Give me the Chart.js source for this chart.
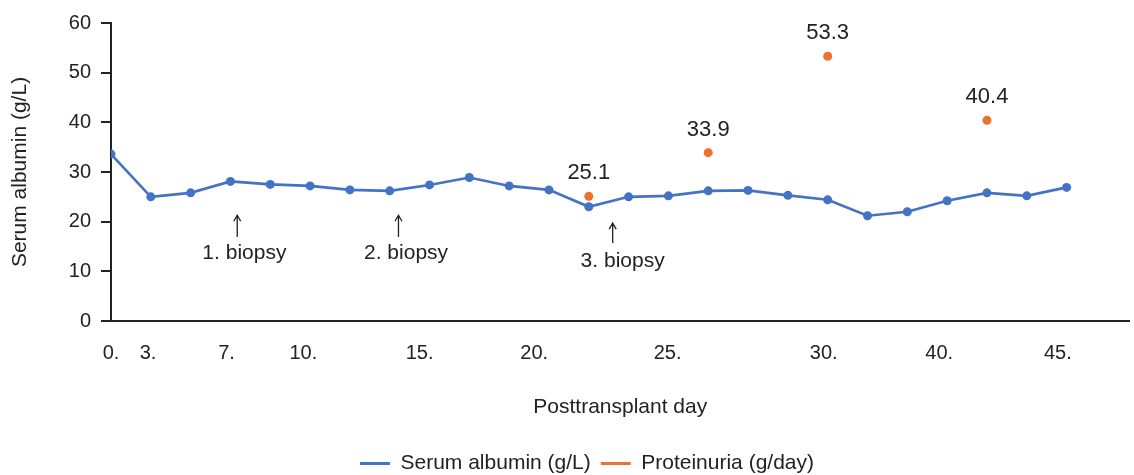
<!DOCTYPE html>
<html>
<head>
<meta charset="utf-8">
<script src="https://cdn.jsdelivr.net/npm/chart.js@4.4.1/dist/chart.umd.min.js"></script>
<style>
  html, body { margin: 0; padding: 0; background: #fff; }
</style>
</head>
<body>
<canvas id="grafico" width="1134" height="475"></canvas>
<script>
// serum albumin per sample (g/L)
const albumin = [33.6, 25.0, 25.8, 28.1, 27.5, 27.2, 26.4, 26.2, 27.4, 28.9, 27.2, 26.4,
  23.0, 25.0, 25.2, 26.2, 26.3, 25.3, 24.4, 21.2, 22.0, 24.2, 25.8, 25.2, 26.9];
// proteinuria (g/day), only measured on some samples
const proteinuria = [null, null, null, null, null, null, null, null, null, null, null, null,
  25.1, null, null, 33.9, null, null, 53.3, null, null, null, 40.4, null, null];

// x axis labels (posttransplant day) and where they sit on the sample axis
const tickLabels = ['0.', '3.', '7.', '10.', '15.', '20.', '25.', '30.', '40.', '45.'];
const tickAt = [0, 0.93, 2.9, 4.83, 7.75, 10.63, 13.98, 17.9, 20.8, 23.78];

// biopsy markers
const biopsyText = ['1. biopsy', '2. biopsy', '3. biopsy'];
const biopsyAt = [3.17, 7.22, 12.6];
const biopsyTextAt = [3.35, 7.41, 12.85];
const arrowTop = [21.3, 21.3, 19.7];
const arrowBottom = [16.9, 16.9, 15.7];
const textBase = [12.5, 12.5, 10.9];

const azul = '#4472C4';
const laranja = '#EE7130';
const tinta = '#222222';
const fonte = '"Liberation Sans", Arial, sans-serif';

Chart.defaults.font.family = fonte;
Chart.defaults.color = tinta;

const rotulos = {
  id: 'rotulos',
  afterLayout(chart) {
    // nudge legend to where it sits in the figure
    const lg = chart.legend;
    lg.top += 9; lg.bottom += 9;
    lg.left += 20; lg.right += 20;
  },
  afterDatasetsDraw(chart) {
    const { ctx } = chart;
    const x = chart.scales.x;
    const y = chart.scales.y;
    ctx.save();
    // value labels above proteinuria points
    const meta = chart.getDatasetMeta(1);
    ctx.font = '22px ' + fonte;
    ctx.fillStyle = tinta;
    ctx.textAlign = 'center';
    ctx.textBaseline = 'alphabetic';
    meta.data.forEach((pt, i) => {
      const v = chart.data.datasets[1].data[i].y;
      ctx.fillText(v.toFixed(1), pt.x, pt.y - 17);
    });
    // biopsy arrows
    ctx.strokeStyle = tinta;
    ctx.lineWidth = 1.3;
    ctx.font = '21px ' + fonte;
    biopsyText.forEach((t, i) => {
      const ax = x.getPixelForValue(biopsyAt[i]);
      const top = y.getPixelForValue(arrowTop[i]);
      const bot = y.getPixelForValue(arrowBottom[i]);
      ctx.beginPath();
      ctx.moveTo(ax, bot);
      ctx.lineTo(ax, top);
      ctx.moveTo(ax - 3.5, top + 6);
      ctx.lineTo(ax, top);
      ctx.lineTo(ax + 3.5, top + 6);
      ctx.stroke();
      ctx.fillText(t, x.getPixelForValue(biopsyTextAt[i]), y.getPixelForValue(textBase[i]));
    });
    ctx.restore();
  }
};

const ctx = document.getElementById('grafico').getContext('2d');
const grafico = new Chart(ctx, {
  type: 'line',
  data: {
    datasets: [
      {
        label: 'Serum albumin (g/L)',
        data: albumin.map((v, i) => ({ x: i, y: v })),
        borderColor: azul,
        backgroundColor: azul,
        borderWidth: 2.6,
        pointRadius: 4.5,
        pointBorderWidth: 0,
        pointBackgroundColor: azul,
        tension: 0,
      },
      {
        label: 'Proteinuria (g/day)',
        data: proteinuria.map((v, i) => ({ x: i, y: v })).filter((p) => p.y !== null),
        showLine: false,
        borderColor: laranja,
        backgroundColor: laranja,
        borderWidth: 3,
        pointRadius: 4.5,
        pointBorderWidth: 0,
        pointBackgroundColor: laranja,
      },
    ],
  },
  options: {
    responsive: false,
    animation: false,
    layout: { padding: { top: 23, right: 0, bottom: 0, left: 0 } },
    scales: {
      x: {
        type: 'linear',
        min: 0,
        max: 25.58,
        afterBuildTicks: (s) => { s.ticks = tickAt.map((v) => ({ value: v })); },
        afterFit: (s) => { s.height = 113; },
        ticks: {
          autoSkip: false,
          maxRotation: 0,
          padding: 20,
          font: { size: 20 },
          color: tinta,
          callback: (v) => tickLabels[tickAt.indexOf(v)],
        },
        grid: { display: true, drawOnChartArea: false, drawTicks: false },
        border: { color: tinta, width: 2 },
        title: {
          display: true,
          text: 'Posttransplant day',
          font: { size: 21 },
          color: tinta,
          padding: { top: 14, bottom: 14 },
        },
      },
      y: {
        min: 0,
        max: 60,
        afterFit: (s) => { s.width = 111; },
        ticks: { stepSize: 10, padding: 10, font: { size: 20 }, color: tinta },
        grid: { drawOnChartArea: false, tickLength: 10, color: tinta, lineWidth: 2 },
        border: { color: tinta, width: 2 },
        title: {
          display: true,
          text: 'Serum albumin (g/L)',
          font: { size: 21 },
          color: tinta,
          padding: { top: 8, bottom: 8 },
        },
      },
    },
    plugins: {
      legend: {
        position: 'bottom',
        labels: {
          usePointStyle: true,
          pointStyle: 'line',
          pointStyleWidth: 30,
          padding: 10,
          font: { size: 21 },
          color: tinta,
          generateLabels: (chart) =>
            Chart.defaults.plugins.legend.labels.generateLabels(chart).map((item) => ({
              ...item,
              lineWidth: 3,
              strokeStyle: chart.data.datasets[item.datasetIndex].borderColor,
            })),
        },
      },
      tooltip: { enabled: false },
    },
  },
  plugins: [rotulos],
});
</script>
</body>
</html>
